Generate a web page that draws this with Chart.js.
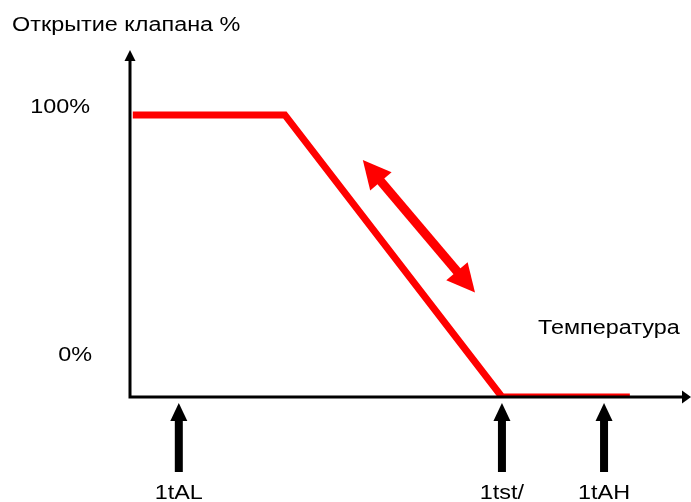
<!DOCTYPE html>
<html>
<head>
<meta charset="utf-8">
<script src="https://cdn.jsdelivr.net/npm/chart.js@4"></script>
<style>
  body { margin: 0; background: #fff; }
  #wrap { width: 691px; height: 502px; }
</style>
</head>
<body>
<div id="wrap"><canvas id="valveChart" width="691" height="502"></canvas></div>
<script>
// valve opening vs temperature
const tempPoints = [0.5, 27.6, 66.3, 89.1];
const openPoints = [100, 100, 0, 0];
// double arrow (direction of regulation)
const arrowTemp = [41.5, 61.5];
const arrowOpen = [84, 37];
// setpoint markers under the axis
const markerTemps = [8.7, 66.3, 84.5];
const markerLabels = ['1tAL', '1tst/', '1tAH'];
const yLabels = ['100%', '0%'];
const yLabelValues = [100, 0];

const FONT = '20px "Liberation Sans", Arial, sans-serif';
const STRETCH = 1.17; // the source text is a bit wide

function head(ctx, x, y, ang, len, w) {
  ctx.save();
  ctx.translate(x, y);
  ctx.rotate(ang);
  ctx.beginPath();
  ctx.moveTo(0, 0);
  ctx.lineTo(-len, -w / 2);
  ctx.lineTo(-len, w / 2);
  ctx.closePath();
  ctx.fill();
  ctx.restore();
}

function text(ctx, str, x, y, align) {
  ctx.save();
  ctx.translate(x, y);
  ctx.scale(STRETCH, 1);
  ctx.font = FONT;
  ctx.fillStyle = '#000';
  ctx.textAlign = align;
  ctx.textBaseline = 'middle';
  ctx.fillText(str, 0, 0);
  ctx.restore();
}

const drawing = {
  id: 'drawing',
  afterDatasetsDraw(chart) {
    const ctx = chart.ctx;
    const xs = chart.scales.x, ys = chart.scales.y;
    const a = chart.chartArea;
    const x0 = xs.getPixelForValue(0), y0 = ys.getPixelForValue(0);

    ctx.save();
    // axes
    ctx.strokeStyle = '#000';
    ctx.fillStyle = '#000';
    ctx.lineWidth = 3;
    ctx.beginPath();
    ctx.moveTo(x0, a.top + 8);
    ctx.lineTo(x0, y0);
    ctx.lineTo(a.right - 7, y0);
    ctx.stroke();
    head(ctx, x0, a.top, -Math.PI / 2, 11, 11);
    head(ctx, a.right, y0, 0, 9, 13);

    // marker arrows
    markerTemps.forEach((t, i) => {
      const px = xs.getPixelForValue(t);
      ctx.fillStyle = '#000';
      ctx.fillRect(px - 4, y0 + 20, 8, 55);
      head(ctx, px, y0 + 6, -Math.PI / 2, 18, 17);
      text(ctx, markerLabels[i], px, y0 + 96, 'center');
    });

    // double arrow
    ctx.fillStyle = '#ff0000';
    ctx.strokeStyle = '#ff0000';
    const p1 = { x: xs.getPixelForValue(arrowTemp[0]), y: ys.getPixelForValue(arrowOpen[0]) };
    const p2 = { x: xs.getPixelForValue(arrowTemp[1]), y: ys.getPixelForValue(arrowOpen[1]) };
    const ang = Math.atan2(p2.y - p1.y, p2.x - p1.x);
    const hl = 28;
    ctx.lineWidth = 9;
    ctx.beginPath();
    ctx.moveTo(p1.x + Math.cos(ang) * (hl - 2), p1.y + Math.sin(ang) * (hl - 2));
    ctx.lineTo(p2.x - Math.cos(ang) * (hl - 2), p2.y - Math.sin(ang) * (hl - 2));
    ctx.stroke();
    head(ctx, p2.x, p2.y, ang, hl, 28);
    head(ctx, p1.x, p1.y, ang + Math.PI, hl, 28);

    // texts
    text(ctx, 'Открытие клапана %', 12, 25, 'left');
    text(ctx, 'Температура', 538, 328, 'left');
    text(ctx, yLabels[0], 90, ys.getPixelForValue(yLabelValues[0]) - 7, 'right');
    text(ctx, yLabels[1], 92, ys.getPixelForValue(yLabelValues[1]) - 42, 'right');
    ctx.restore();
  }
};

new Chart(document.getElementById('valveChart'), {
  type: 'scatter',
  data: {
    datasets: [{
      data: tempPoints.map((t, i) => ({ x: t, y: openPoints[i] })),
      showLine: true,
      borderColor: '#ff0000',
      borderWidth: 7,
      pointRadius: 0,
      borderJoinStyle: 'miter',
      tension: 0
    }]
  },
  options: {
    responsive: false,
    animation: false,
    layout: { padding: { left: 130, right: 0, top: 50, bottom: 105 } },
    plugins: { legend: { display: false }, tooltip: { enabled: false } },
    scales: {
      x: { type: 'linear', min: 0, max: 100, display: false },
      y: { min: 0, max: 123, display: false }
    }
  },
  plugins: [drawing]
});
</script>
</body>
</html>
